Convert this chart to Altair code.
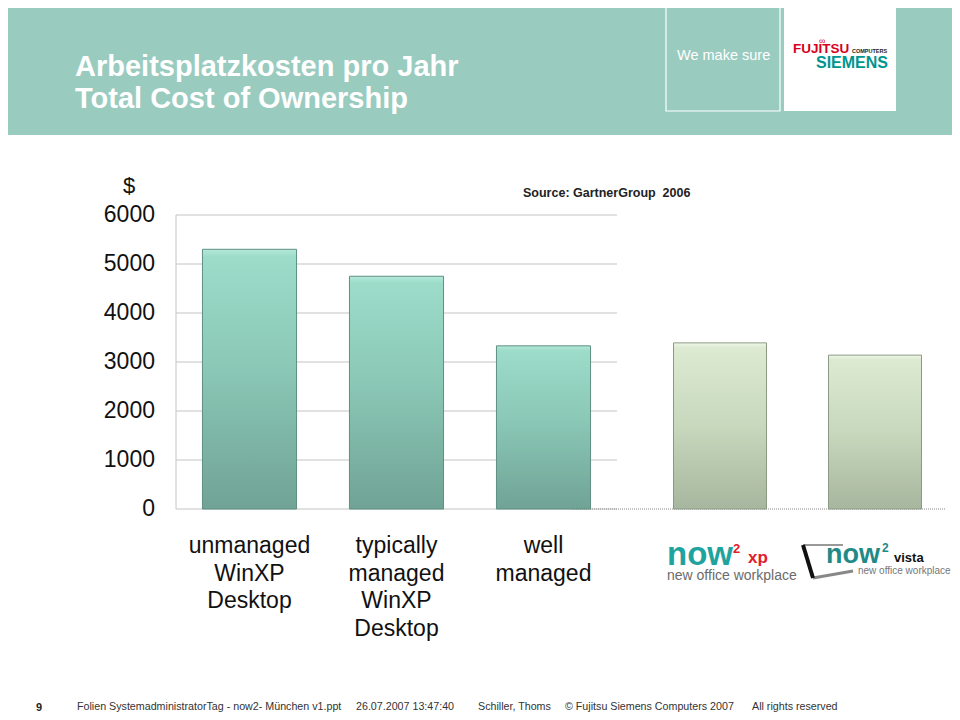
import altair as alt
import pandas as pd

# ---------------- data ----------------
categories = ["unmanaged\nWinXP\nDesktop", "typically\nmanaged\nWinXP\nDesktop", "well\nmanaged"]
costs = [5300, 4750, 3330]
now2_products = ["now2 xp", "now2 vista"]
now2_costs = [3390, 3140]
y_ticks = [0, 1000, 2000, 3000, 4000, 5000, 6000]

title_lines = ["Arbeitsplatzkosten pro Jahr", "Total Cost of Ownership"]
source_text = "Source: GartnerGroup\u00a0\u00a02006"
footer_parts = [
    "Folien SystemadministratorTag - now2- München v1.ppt",
    "26.07.2007 13:47:40",
    "Schiller, Thoms",
    "© Fujitsu Siemens Computers 2007",
    "All rights reserved",
]
footer_x = [69, 348, 470, 557, 744]

left_df = pd.DataFrame({"cat": categories, "cost": costs})
right_df = pd.DataFrame({"cat": now2_products, "cost": now2_costs})
tick_df = pd.DataFrame({"v": y_ticks})
zero_df = pd.DataFrame({"v": [0]})
one = pd.DataFrame({"k": [0]})

FONT = "Liberation Sans, Arial, sans-serif"

yscale = alt.Scale(domain=[0, 6000], range=[501, 207])
x_left = alt.X("cat:N", sort=categories,
               scale=alt.Scale(domain=categories, range=[168, 609], paddingInner=0.36, paddingOuter=0.18),
               axis=None)
x_right = alt.X("cat:N", sort=now2_products,
                scale=alt.Scale(domain=now2_products, range=[634.5, 944.5], paddingInner=0.4, paddingOuter=0.2),
                axis=None)


def deco_rect(x, x2, y, y2, **mark):
    return alt.Chart(one).mark_rect(**mark).encode(
        x=alt.value(x), x2=alt.value(x2), y=alt.value(y), y2=alt.value(y2))


def deco_rule(x, x2, y, y2, **mark):
    return alt.Chart(one).mark_rule(**mark).encode(
        x=alt.value(x), x2=alt.value(x2), y=alt.value(y), y2=alt.value(y2))


def deco_text(text, x, y, **mark):
    opts = dict(align="left", baseline="alphabetic", font=FONT)
    opts.update(mark)
    return alt.Chart(one).mark_text(text=text, **opts).encode(x=alt.value(x), y=alt.value(y))


# ---------------- header ----------------
header = [
    deco_rect(0, 944, 127, 704, color="white"),
    deco_rect(0, 944, 0, 127, color="#9ACBBF"),
    deco_rect(658, 772, -5, 103, fillOpacity=0, stroke="white", strokeWidth=1.2),
    deco_rect(776, 888, -5, 103, color="white"),
    deco_text(title_lines[0], 67, 68, fontSize=29, fontWeight="bold", color="white"),
    deco_text(title_lines[1], 67, 100, fontSize=29, fontWeight="bold", color="white"),
    deco_text("We make sure", 669, 52, fontSize=14.5, color="white"),
    deco_text("∞", 811, 36, fontSize=9, color="#D7001E"),
    deco_text("FUJITSU", 785, 45, fontSize=13.5, fontWeight="bold", color="#D7001E"),
    deco_text("COMPUTERS", 844, 45, fontSize=5.5, fontWeight="bold", color="#222"),
    deco_text("SIEMENS", 808, 60, fontSize=16, fontWeight="bold", color="#00958F"),
]

# ---------------- grid and y axis ----------------
grid = alt.Chart(tick_df).mark_rule(color="#C4C4C4", strokeWidth=1).encode(
    y=alt.Y("v:Q", scale=yscale, axis=None), x=alt.value(168), x2=alt.value(609))
y_domain = alt.Chart(tick_df).mark_rule(color="#C4C4C4", strokeWidth=1).encode(
    y=alt.Y("min(v):Q", scale=yscale, axis=None), y2="max(v):Q", x=alt.value(168))
y_labels = alt.Chart(tick_df).mark_text(
    align="right", baseline="middle", fontSize=23, font=FONT, color="#111").encode(
    y=alt.Y("v:Q", scale=yscale, axis=None), x=alt.value(147), text="v:Q")
dollar = deco_text("$", 121, 178, fontSize=22, align="center", baseline="middle", color="#111")
dotted = alt.Chart(zero_df).mark_rule(color="#8A8A8A", strokeWidth=1, strokeDash=[1, 1]).encode(
    y=alt.Y("v:Q", scale=yscale, axis=None), x=alt.value(564), x2=alt.value(937))

teal_grad = alt.Gradient(gradient="linear", x1=0, x2=0, y1=0, y2=1, stops=[
    alt.GradientStop(color="#B4E9D9", offset=0),
    alt.GradientStop(color="#9CDCC9", offset=0.03),
    alt.GradientStop(color="#8BC8B6", offset=0.45),
    alt.GradientStop(color="#70A395", offset=1),
])
green_grad = alt.Gradient(gradient="linear", x1=0, x2=0, y1=0, y2=1, stops=[
    alt.GradientStop(color="#EEF6E8", offset=0),
    alt.GradientStop(color="#DCEAD2", offset=0.03),
    alt.GradientStop(color="#C7D8BD", offset=0.5),
    alt.GradientStop(color="#A7B69E", offset=1),
])

left_bars = alt.Chart(left_df).mark_bar(color=teal_grad, stroke="#5F8F82", strokeWidth=1).encode(
    x=x_left, y=alt.Y("cost:Q", scale=yscale, axis=None))
left_labels = alt.Chart(left_df).mark_text(
    lineBreak="\n", fontSize=23, font=FONT, color="#111", baseline="alphabetic",
    align="center", lineHeight=27.5).encode(
    x=x_left, y=alt.value(545), text="cat:N")
left = alt.layer(left_bars, left_labels)

right_bars = alt.Chart(right_df).mark_bar(color=green_grad, stroke="#8C9A84", strokeWidth=1).encode(
    x=x_right, y=alt.Y("cost:Q", scale=yscale, axis=None))


def logo_text(product, text, dx, y, **mark):
    opts = dict(align="left", baseline="alphabetic", font=FONT)
    opts.update(mark)
    return alt.Chart(right_df).transform_filter(alt.datum.cat == product).mark_text(
        text=text, dx=dx, **opts).encode(x=x_right, y=alt.value(y))


logos = [
    logo_text("now2 xp", "now", -53, 557, fontSize=33, fontWeight="bold", color="#1FA39E"),
    logo_text("now2 xp", "2", 13, 545, fontSize=13, fontWeight="bold", color="#E0202A"),
    logo_text("now2 xp", "xp", 28, 555, fontSize=17, fontWeight="bold", color="#E0202A"),
    logo_text("now2 xp", "new office workplace", -53, 572, fontSize=14, color="#6B6B6B"),
    logo_text("now2 vista", "now", -49, 555, fontSize=27, fontWeight="bold", color="#1F8A88"),
    logo_text("now2 vista", "2", 7, 544, fontSize=12, fontWeight="bold", color="#1F8A88"),
    logo_text("now2 vista", "vista", 19, 554, fontSize=13, fontWeight="bold", color="#111"),
    logo_text("now2 vista", "new office workplace", -17, 566, fontSize=10, color="#777"),
]
frame = [
    deco_rule(795, 835, 537, 537, color="#999", strokeWidth=2),
    deco_rule(805, 845, 570, 563, color="#888", strokeWidth=3),
    deco_rule(795, 805, 537, 570, color="#111", strokeWidth=4),
]
right = alt.layer(right_bars, *frame, *logos)

# ---------------- other texts ----------------
extras = [deco_text(source_text, 515, 189, fontSize=12.5, fontWeight="bold", color="#222"),
          deco_text("9", 28, 703, fontSize=11, fontWeight="bold", color="#222")]
for txt, fx in zip(footer_parts, footer_x):
    extras.append(deco_text(txt, fx, 702, fontSize=10.7, color="#333"))

chart = alt.layer(*header, grid, dotted, y_domain, y_labels, dollar, left, right, *extras).resolve_scale(
    x="independent").properties(
    width=944, height=704, padding=0,
    autosize=alt.AutoSizeParams(type="none"),
).configure_view(strokeWidth=0, stroke="white").configure(font=FONT, background="white")

chart.save("out.html", embed_options={"renderer": "svg", "actions": False})
